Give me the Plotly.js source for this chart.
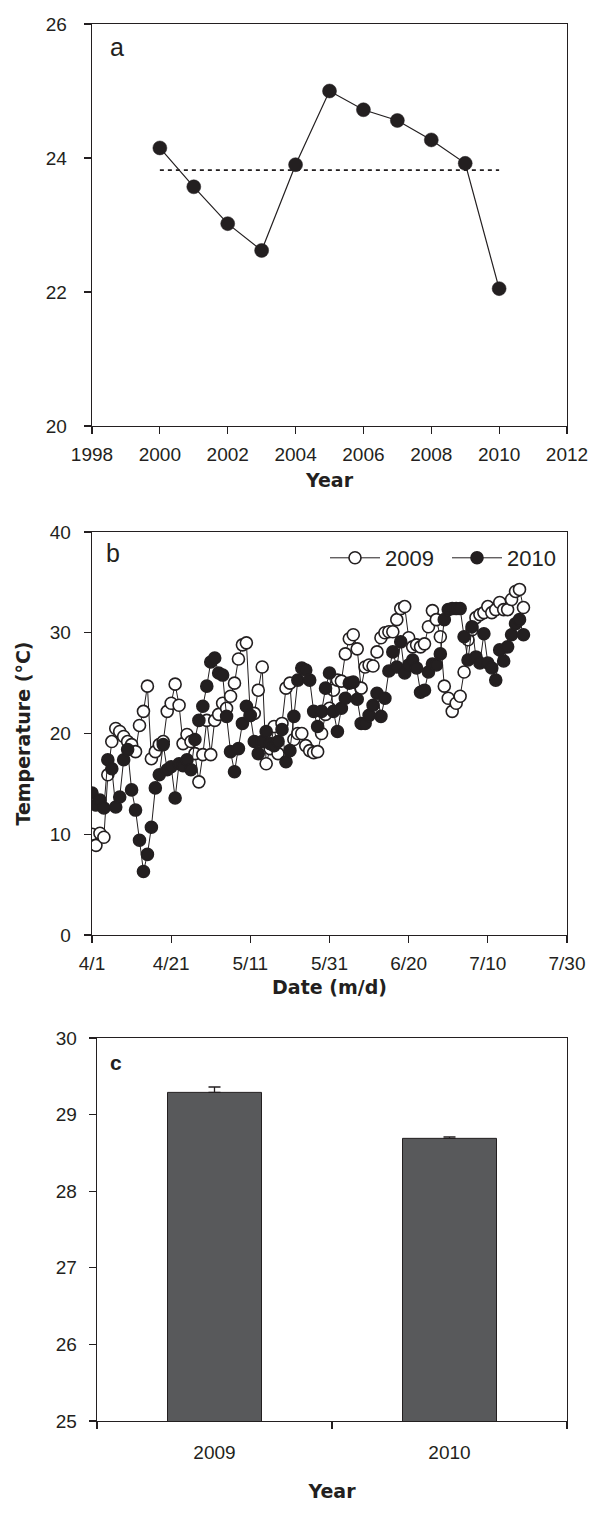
<!DOCTYPE html>
<html>
<head>
<meta charset="utf-8">
<script src="https://cdn.plot.ly/plotly-3.0.1.min.js"></script>
<style>
  html, body { margin: 0; padding: 0; background: #fff; }
  #chart { width: 589px; height: 1519px; }
</style>
</head>
<body>
<div id="chart"></div>
<script>
// ---------- Panel a: annual mean temperature ----------
const years = [2000, 2001, 2002, 2003, 2004, 2005, 2006, 2007, 2008, 2009, 2010];
const annualTemp = [24.15, 23.57, 23.02, 22.62, 23.90, 25.00, 24.72, 24.56, 24.27, 23.92, 22.05];
const meanYears = [2000, 2010];
const meanLevel = [23.82, 23.82];

// ---------- Panel b: daily temperature (Apr 1 onward) ----------
const seasonStart = '2009-04-01';
const temp2009 = [
  10.0, 8.9, 10.1, 9.7, 15.9, 19.2, 20.5, 20.2, 19.7, 19.2,
  18.9, 18.2, 20.8, 22.2, 24.7, 17.5, 18.2, 18.9, 19.2, 22.2,
  23.0, 24.9, 22.8, 19.0, 19.9, 19.2, 18.0, 15.2, 17.9, 21.3,
  17.9, 21.3, 21.9, 23.0, 22.5, 23.7, 25.0, 27.4, 28.8, 29.0,
  21.8, 22.0, 24.3, 26.6, 17.0, 18.5, 20.7, 18.0, 21.0, 24.5,
  25.0, 19.4, 20.0, 20.0, 18.8, 18.3, 18.1, 18.2, 20.0, 21.9,
  22.5, 24.3, 25.3, 25.2, 27.9, 29.4, 29.8, 28.4, 24.5, 26.6,
  26.8, 26.7, 28.1, 29.5, 30.0, 30.1, 30.1, 31.3, 32.4, 32.6,
  29.5, 28.6, 28.8, 28.6, 28.9, 30.6, 32.2, 31.3, 29.6, 24.7,
  23.5, 22.2, 23.0, 23.7, 26.1, 29.3, 30.3, 31.5, 31.8, 32.0,
  32.6, 32.0, 32.3, 33.0, 32.3, 32.3, 33.3, 34.1, 34.3, 32.5
];
const temp2010 = [
  14.1, 12.9, 13.4, 12.6, 17.4, 16.5, 12.7, 13.7, 17.4, 18.4,
  14.4, 12.4, 9.4, 6.3, 8.0, 10.7, 14.6, 15.9, 18.9, 16.4,
  16.7, 13.6, 17.0, 16.8, 17.4, 16.4, 19.4, 21.3, 22.7, 24.7,
  27.1, 27.5, 26.0, 25.8, 21.7, 18.2, 16.2, 18.5, 21.0, 22.7,
  21.8, 19.2, 18.0, 19.2, 20.2, 19.0, 18.8, 19.2, 20.4, 17.2,
  18.3, 21.7, 25.3, 26.5, 26.3, 25.3, 22.2, 20.7, 22.2, 24.5,
  26.0, 22.2, 20.2, 22.5, 23.5, 25.0, 25.1, 23.4, 21.0, 21.0,
  21.8, 22.8, 24.0, 21.7, 23.5, 26.2, 28.1, 26.6, 29.1, 26.0,
  26.8, 27.3, 26.5, 24.1, 24.3, 26.1, 26.9, 26.8, 27.9, 31.3,
  32.3, 32.4, 32.4, 32.4, 29.6, 27.3, 30.6, 27.6, 27.0, 29.9,
  27.0, 26.5, 25.3, 28.3, 27.2, 28.6, 29.8, 30.9, 31.3, 29.8
];
const dateTicks = ['2009-04-01', '2009-04-21', '2009-05-11', '2009-05-31', '2009-06-20', '2009-07-10', '2009-07-30'];
const dateTickText = ['4/1', '4/21', '5/11', '5/31', '6/20', '7/10', '7/30'];

// ---------- Panel c: seasonal mean ----------
const barYears = ['2009', '2010'];
const barMeans = [29.29, 28.69];
const barErr = [0.07, 0.02];

// consecutive daily dates for the season
function dailyDates(start, n) {
  const out = [];
  const t0 = new Date(start + 'T00:00:00Z').getTime();
  for (let i = 0; i < n; i++) {
    out.push(new Date(t0 + i * 86400000).toISOString().slice(0, 10));
  }
  return out;
}
const dates = dailyDates(seasonStart, temp2009.length);

const W = 589, H = 1519;
const fx = p => p / W;
const fy = p => 1 - p / H;
const INK = '#231f20';
const FONT = 'Liberation Sans, Arial, Helvetica, sans-serif';
const BOLD = 'DejaVu Sans, Verdana, sans-serif';

const axisBase = {
  showline: true, mirror: true, linecolor: INK, linewidth: 1.4,
  ticks: 'outside', ticklen: 7, tickwidth: 1.2, tickcolor: INK,
  showgrid: false, zeroline: false, automargin: false,
  tickfont: { family: FONT, size: 19, color: INK }
};
const titleFont = { family: BOLD, size: 19, color: INK, weight: 'bold' };

const traces = [
  { x: meanYears, y: meanLevel, xaxis: 'x', yaxis: 'y', mode: 'lines',
    line: { color: INK, width: 1.7, dash: '4px,4px' }, showlegend: false, hoverinfo: 'skip' },
  { x: years, y: annualTemp, xaxis: 'x', yaxis: 'y', mode: 'lines+markers',
    line: { color: INK, width: 1.2 },
    marker: { color: INK, size: 14, line: { color: INK, width: 0.5 } }, showlegend: false },
  { x: dates, y: temp2009, xaxis: 'x2', yaxis: 'y2', mode: 'lines+markers', name: '2009',
    line: { color: INK, width: 1 },
    marker: { color: '#ffffff', size: 12, line: { color: INK, width: 1.6 } } },
  { x: dates, y: temp2010, xaxis: 'x2', yaxis: 'y2', mode: 'lines+markers', name: '2010',
    line: { color: INK, width: 1 },
    marker: { color: INK, size: 12, line: { color: INK, width: 1.6 } } },
  { x: barYears, y: barMeans, xaxis: 'x3', yaxis: 'y3', type: 'bar', width: 0.4,
    marker: { color: '#58595b', line: { color: INK, width: 1 } },
    error_y: { type: 'data', array: barErr, arrayminus: [0, 0], symmetric: false,
               color: INK, thickness: 1.3, width: 6 },
    showlegend: false }
];

const layout = {
  width: W, height: H,
  margin: { l: 0, r: 0, t: 0, b: 0 },
  paper_bgcolor: '#fff', plot_bgcolor: '#fff',
  font: { family: FONT, color: INK },
  showlegend: true,
  legend: {
    orientation: 'h', x: fx(569), xanchor: 'right', y: fy(558), yanchor: 'middle',
    font: { family: FONT, size: 22, color: INK }, bgcolor: 'rgba(0,0,0,0)',
    itemwidth: 50, tracegroupgap: 0, entrywidth: 57, entrywidthmode: 'pixels'
  },
  xaxis: Object.assign({}, axisBase, {
    domain: [fx(92), fx(567)], anchor: 'y', range: [1998, 2012], dtick: 2, tick0: 1998,
    ticklabelstandoff: 4,
    title: { text: 'Year', font: titleFont, standoff: 9 }
  }),
  yaxis: Object.assign({}, axisBase, {
    domain: [fy(426), fy(24)], anchor: 'x', range: [20, 26], dtick: 2, tick0: 20,
    ticklabelstandoff: 13
  }),
  xaxis2: Object.assign({}, axisBase, {
    domain: [fx(92), fx(567)], anchor: 'y2', type: 'date',
    range: ['2009-04-01', '2009-07-30'],
    tickmode: 'array', tickvals: dateTicks, ticktext: dateTickText,
    ticklabelstandoff: 4,
    title: { text: 'Date (m/d)', font: titleFont, standoff: 7 }
  }),
  yaxis2: Object.assign({}, axisBase, {
    domain: [fy(935), fy(532)], anchor: 'x2', range: [0, 40], dtick: 10, tick0: 0,
    ticklabelstandoff: 9,
    title: { text: 'Temperature (°C)', font: titleFont, standoff: 14 }
  }),
  xaxis3: Object.assign({}, axisBase, {
    domain: [fx(97), fx(567)], anchor: 'y3', type: 'category', range: [-0.5, 1.5],
    tickson: 'boundaries', ticklabelstandoff: 14,
    title: { text: 'Year', font: titleFont, standoff: 22 }
  }),
  yaxis3: Object.assign({}, axisBase, {
    domain: [fy(1421), fy(1038)], anchor: 'x3', range: [25, 30], dtick: 1, tick0: 25,
    ticklabelstandoff: 8
  }),
  annotations: [
    { text: 'a', xref: 'paper', yref: 'paper', x: fx(117), y: fy(47),
      xanchor: 'center', yanchor: 'middle', showarrow: false,
      font: { family: FONT, size: 25, color: INK } },
    { text: 'b', xref: 'paper', yref: 'paper', x: fx(113), y: fy(553),
      xanchor: 'center', yanchor: 'middle', showarrow: false,
      font: { family: FONT, size: 25, color: INK } },
    { text: 'c', xref: 'paper', yref: 'paper', x: fx(116), y: fy(1062),
      xanchor: 'center', yanchor: 'middle', showarrow: false,
      font: { family: FONT, size: 21, color: INK, weight: 'bold' } }
  ]
};

Plotly.newPlot('chart', traces, layout, { staticPlot: true, displayModeBar: false });
</script>
</body>
</html>
